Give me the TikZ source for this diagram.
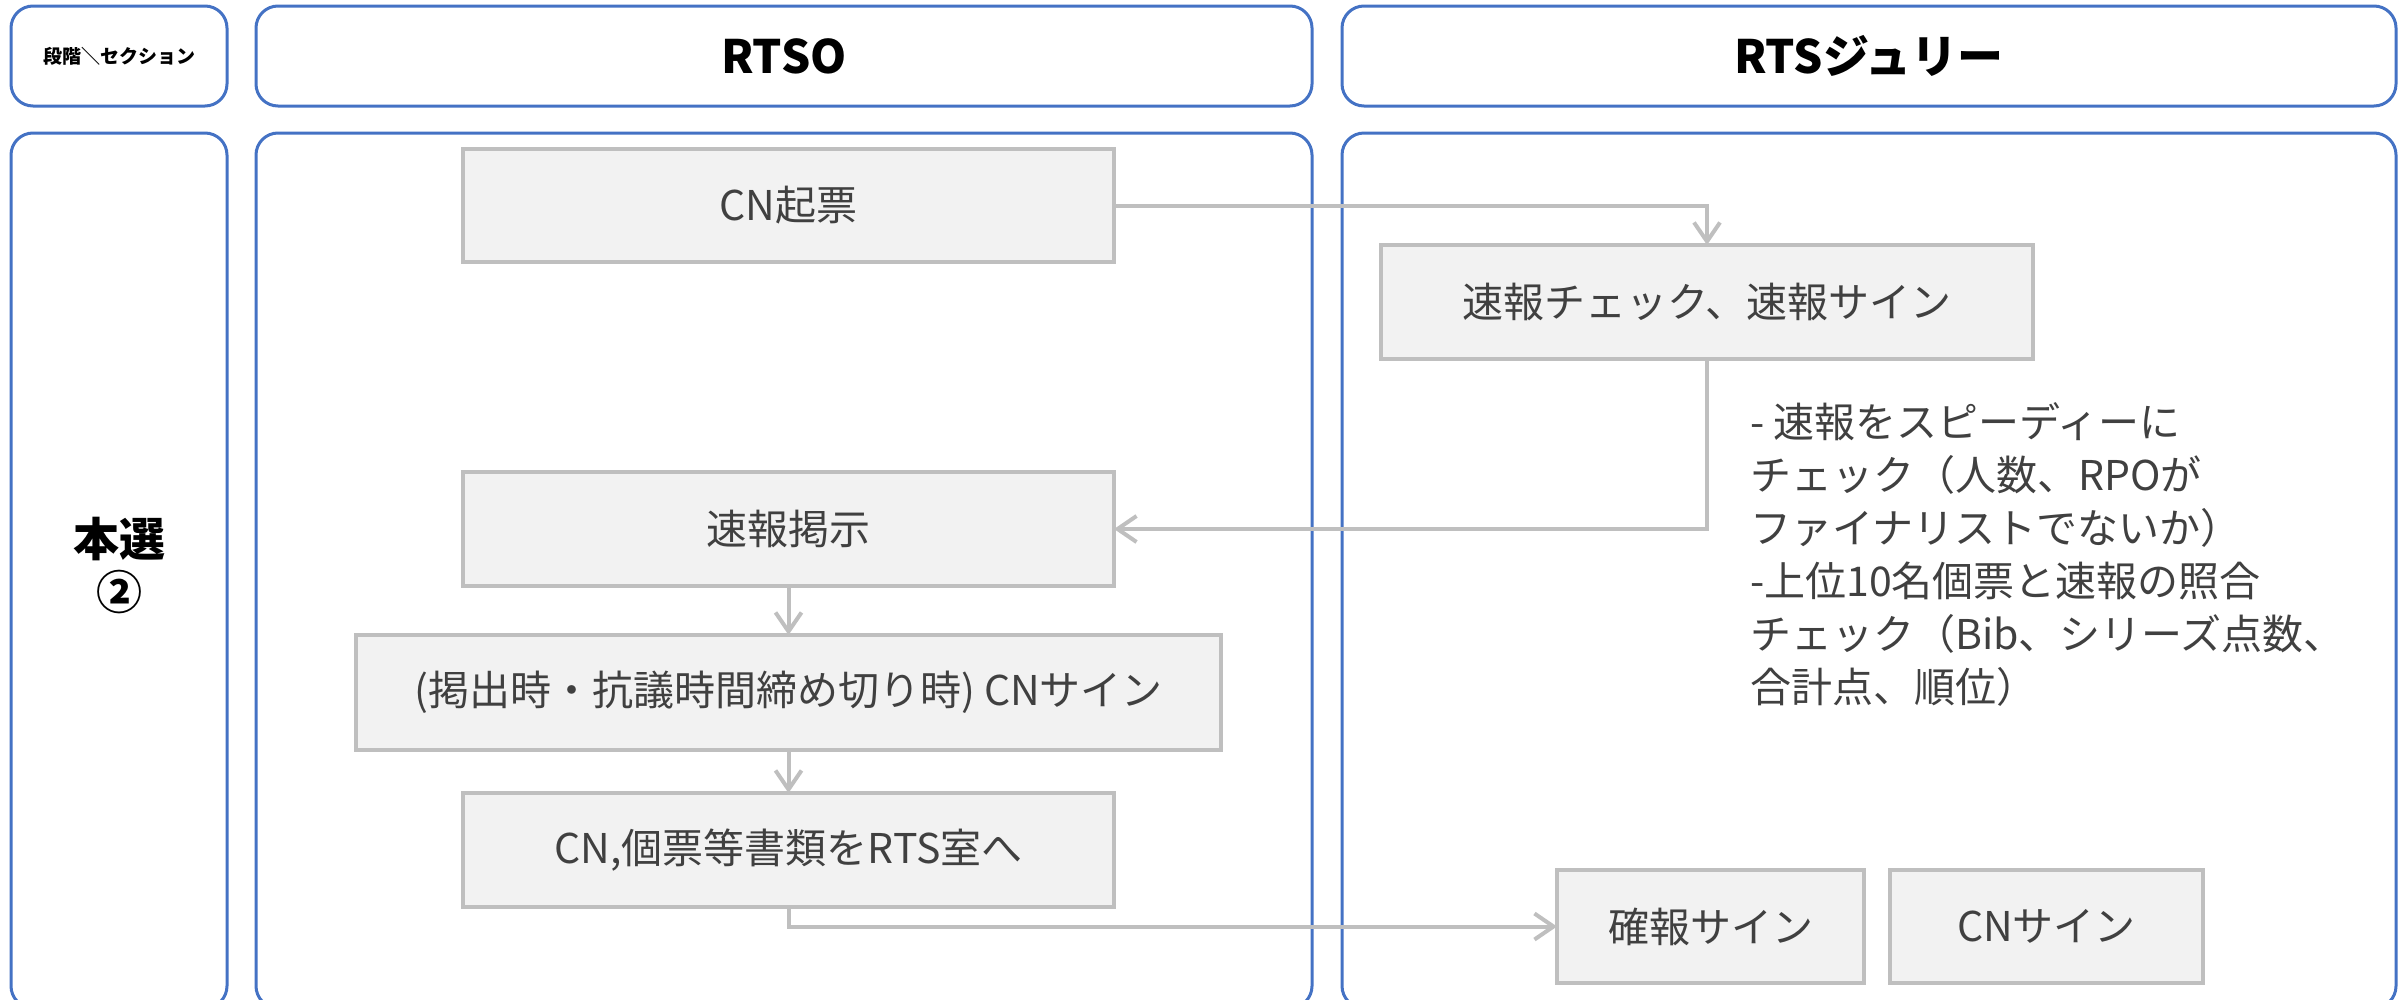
\documentclass[tikz,border=0pt]{standalone}
\usepackage{fontspec}
\setmainfont{Noto Sans CJK JP}
\usetikzlibrary{arrows.meta}
\definecolor{laneblue}{HTML}{4472C4}
\definecolor{boxline}{HTML}{BFBFBF}
\definecolor{boxfill}{HTML}{F2F2F2}
\definecolor{boxtext}{HTML}{404040}
\begin{document}
\begin{tikzpicture}[x=1pt,y=-1pt,
 lane/.style={draw=laneblue,line width=3pt,rounded corners=22pt,inner sep=0pt,outer sep=0pt,text=black,align=center},
 proc/.style={draw=boxline,fill=boxfill,line width=4pt,inner sep=0pt,outer sep=0pt,text=boxtext,font=\fontsize{41}{50}\selectfont},
 arr/.style={draw=boxline,line width=4pt,-{Straight Barb[length=19pt,width=26pt,line width=4pt]}},
 note/.style={text=boxtext,inner sep=0pt,align=left,font=\fontsize{41}{53}\selectfont}]
\useasboundingbox (0,0) rectangle (2405,999);
% lanes
\node[lane,minimum width=216pt,minimum height=100pt,font=\bfseries\fontsize{19}{22}\selectfont] (h0) at (119,56) {段階＼セクション};
\node[lane,minimum width=1056pt,minimum height=100pt,font=\bfseries\fontsize{46}{50}\selectfont] (h1) at (784,56) {RTSO};
\node[lane,minimum width=1054pt,minimum height=100pt,font=\bfseries\fontsize{46}{50}\selectfont] (h2) at (1869,56) {RTSジュリー};
\node[lane,minimum width=216pt,minimum height=875pt] (b0) at (119,570.5) {};
\node[lane,minimum width=1056pt,minimum height=875pt] (b1) at (784,570.5) {};
\node[lane,minimum width=1054pt,minimum height=875pt] (b2) at (1869,570.5) {};
\node[align=center,inner sep=0pt,font=\bfseries\fontsize{46}{53}\selectfont] (stage) at (119,566) {本選\\②};
% process boxes
\node[proc,minimum width=651pt,minimum height=113pt] (cn) at (788.5,205.5) {CN起票};
\node[proc,minimum width=652pt,minimum height=114pt] (chk) at (1707,302) {速報チェック、速報サイン};
\node[proc,minimum width=651pt,minimum height=114pt] (post) at (788.5,529) {速報掲示};
\node[proc,minimum width=865pt,minimum height=115pt] (sign) at (788.5,692.5) {(掲出時・抗議時間締め切り時) CNサイン};
\node[proc,minimum width=651pt,minimum height=114pt] (docs) at (788.5,850) {CN,個票等書類をRTS室へ};
\node[proc,minimum width=307pt,minimum height=113pt] (kaku) at (1710.5,926.5) {確報サイン};
\node[proc,minimum width=313pt,minimum height=113pt] (cnsign) at (2046.5,926.5) {CNサイン};
% annotation
\node[note,anchor=west] (memo) at (1750,554) {- 速報をスピーディーに\\チェック（人数、RPOが\\ファイナリストでないか）\\-上位10名個票と速報の照合\\チェック（Bib、シリーズ点数、\\合計点、順位）};
% connectors
\draw[arr] (cn.east) -| (chk.north);
\draw[arr] (chk.south) |- (post.east);
\draw[arr] (post.south) -- (sign.north);
\draw[arr] (sign.south) -- (docs.north);
\draw[arr] (docs.south) |- (kaku.west);
\end{tikzpicture}
\end{document}
